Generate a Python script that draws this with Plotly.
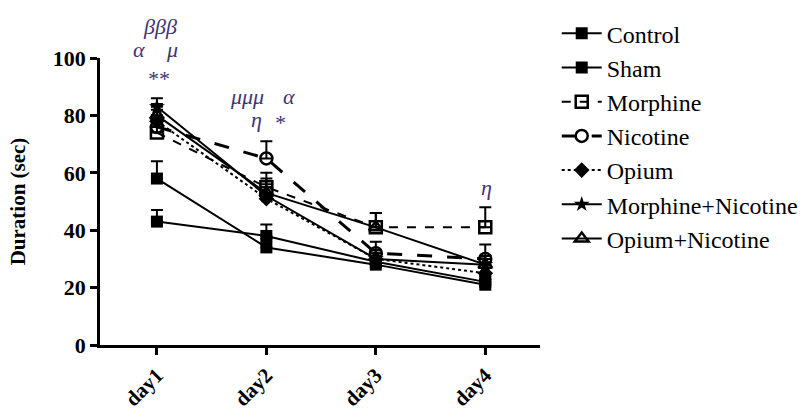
import plotly.graph_objects as go

categories = ["day1", "day2", "day3", "day4"]
x_idx = [0, 1, 2, 3]

control = [58, 34, 28, 21]
control_err = [6, 3, 3, 2]
sham = [43, 38, 29, 22]
sham_err = [4, 4, 3, 2]
morphine = [74, 55, 41, 41]
morphine_err = [4, 5, 5, 7]
nicotine = [76, 65, 32, 30]
nicotine_err = [4, 6, 4, 5]
opium = [78, 51, 30, 25]
opium_err = [4, 4, 3, 3]
morph_nic = [83, 52, 30, 28]
morph_nic_err = [3, 4, 3, 3]
opium_nic = [80, 53, 41, 28]
opium_nic_err = [4, 5, 5, 3]

series = [
    ("Control", control, control_err, "square", "solid", 2),
    ("Sham", sham, sham_err, "square", "solid", 2),
    ("Morphine", morphine, morphine_err, "square-open", "dash", 2),
    ("Nicotine", nicotine, nicotine_err, "circle-open", "longdash", 3),
    ("Opium", opium, opium_err, "diamond", "dot", 2),
    ("Morphine+Nicotine", morph_nic, morph_nic_err, "star", "solid", 2),
    ("Opium+Nicotine", opium_nic, opium_nic_err, "triangle-up-open", "solid", 2),
]

fig = go.Figure()
for i, (name, vals, err, sym, dash, lw) in enumerate(series):
    fig.add_trace(go.Scatter(
        x=x_idx, y=vals, name=name, mode="lines+markers",
        line=dict(color="black", width=lw, dash=dash),
        marker=dict(symbol=sym, size=12, color="black",
                    line=dict(color="black", width=2.5 if "open" in sym else 0)),
        error_y=dict(type="data", symmetric=False, array=err,
                     arrayminus=[0, 0, 0, 0], color="black",
                     thickness=2, width=6),
    ))

ann_color = "#3d3570"
annot_x = [0.03, -0.16, 0.14, 0.01, 0.82, 1.21, 0.91, 1.12, 3.01]
annot_y = [116, 108, 108, 98, 91.5, 91.5, 83.5, 82.5, 55]
annot_t = ["βββ", "α", "μ", "**", "μμμ", "α", "η", "*", "η"]
for xa, ya, txt in zip(annot_x, annot_y, annot_t):
    fig.add_annotation(x=xa, y=ya / 100.0, xref="x", yref="paper",
                       text=f"<i>{txt}</i>", showarrow=False,
                       font=dict(family="Liberation Serif", size=22, color=ann_color))

fig.update_layout(
    width=808, height=416,
    margin=dict(l=100, r=268, t=58, b=71, autoexpand=False),
    paper_bgcolor="white", plot_bgcolor="white",
    showlegend=True,
    legend=dict(x=1.038, y=1.163, xanchor="left", yanchor="top",
                font=dict(family="Liberation Serif", size=24, color="black"),
                tracegroupgap=0, itemwidth=40, maxheight=400,
                bgcolor="rgba(0,0,0,0)"),
    xaxis=dict(range=[-0.52, 3.5], tickvals=x_idx, ticktext=categories,
               tickangle=-45, showgrid=False, zeroline=False, automargin=False,
               showline=True, linecolor="black", linewidth=2.5,
               ticks="outside", ticklen=7, tickwidth=2.5, tickcolor="black",
               tickfont=dict(family="Liberation Serif", size=21, color="black",
                             weight="bold")),
    yaxis=dict(range=[0, 100], tickvals=[0, 20, 40, 60, 80, 100],
               showgrid=False, zeroline=False, automargin=False,
               showline=True, linecolor="black", linewidth=2.5,
               ticks="outside", ticklen=7, tickwidth=2.5, tickcolor="black",
               tickfont=dict(family="Liberation Serif", size=22, color="black",
                             weight="bold"),
               title=dict(text="Duration (sec)", standoff=22,
                          font=dict(family="Liberation Serif", size=21,
                                    color="black", weight="bold"))),
)

fig.write_html("out.html", config={"displayModeBar": False},
               post_script="document.body.style.margin='0';document.body.style.overflow='hidden';")
